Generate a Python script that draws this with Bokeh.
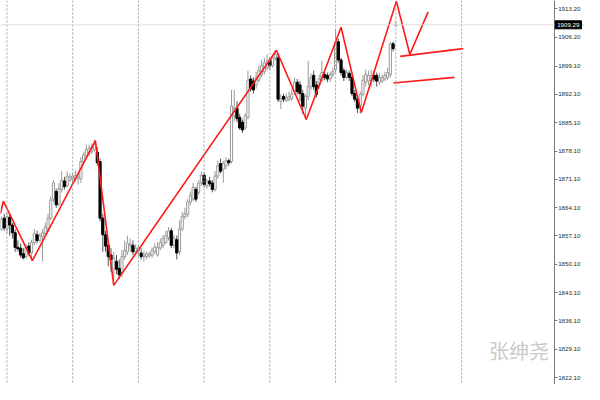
from bokeh.plotting import figure
from bokeh.models import (Span, Label, FixedTicker, ColumnDataSource, Range1d,
                          CustomJSTickFormatter, LinearAxis)
from bokeh.embed import file_html
from bokeh.resources import INLINE

# ---- candle data (price) ----
opens = [1858.8, 1861.5, 1858.8, 1861.7, 1859.8, 1857.9, 1854.3, 1854.1, 1852.7, 1852.0,
         1854.6, 1852.9, 1855.5, 1857.4, 1856.0, 1857.0, 1857.7, 1858.8, 1861.5, 1866.2,
         1868.1, 1865.0, 1868.6, 1870.7, 1869.5, 1870.9, 1871.2, 1871.2, 1871.2, 1871.2,
         1875.5, 1876.9, 1877.6, 1878.1, 1878.5, 1877.8, 1875.5, 1861.5, 1857.4, 1854.8,
         1852.4, 1848.9, 1850.8, 1849.1, 1848.1, 1852.0, 1853.2, 1854.8, 1854.8, 1853.2,
         1853.4, 1852.9, 1852.0, 1852.0, 1852.2, 1852.4, 1853.2, 1852.4, 1854.1, 1854.8,
         1855.5, 1856.7, 1858.4, 1854.8, 1856.2, 1853.2, 1858.8, 1861.9, 1862.4, 1865.5,
         1866.2, 1868.6, 1867.9, 1870.2, 1872.1, 1869.5, 1870.7, 1870.2, 1868.6, 1871.9,
         1875.0, 1873.6, 1874.5, 1875.7, 1875.5, 1886.8, 1888.7, 1886.4, 1885.2, 1883.8,
         1886.4, 1895.9, 1895.4, 1894.4, 1895.6, 1897.0, 1897.7, 1898.7, 1900.4, 1899.2,
         1901.1, 1901.1, 1890.4, 1891.6, 1890.6, 1890.9, 1891.1, 1892.8, 1895.1, 1894.4,
         1892.3, 1888.7, 1891.6, 1894.0, 1896.8, 1894.4, 1894.4, 1895.6, 1897.0, 1896.8,
         1895.9, 1897.0, 1898.2, 1905.1, 1900.6, 1898.0, 1896.3, 1897.3, 1896.3, 1892.3,
         1890.9, 1889.2, 1892.1, 1895.1, 1895.4, 1895.4, 1896.8, 1896.8, 1895.1, 1895.4,
         1895.9, 1896.3, 1897.0, 1904.6, 1909.1]
highs = [1861.9, 1862.6, 1863.1, 1862.4, 1860.3, 1858.8, 1856.0, 1855.3, 1854.1, 1855.1,
         1855.5, 1856.2, 1858.8, 1858.4, 1857.9, 1858.8, 1860.3, 1862.6, 1866.9, 1870.9,
         1868.8, 1870.2, 1873.1, 1871.7, 1873.1, 1872.6, 1872.8, 1873.3, 1872.6, 1876.6,
         1877.8, 1879.7, 1879.7, 1880.0, 1880.9, 1879.0, 1876.2, 1862.6, 1858.4, 1856.0,
         1854.1, 1853.2, 1852.4, 1851.3, 1853.6, 1856.0, 1857.2, 1856.5, 1856.0, 1855.1,
         1854.8, 1854.1, 1853.4, 1853.2, 1853.2, 1854.3, 1855.3, 1855.5, 1856.5, 1857.4,
         1858.4, 1859.3, 1859.1, 1857.4, 1857.2, 1861.0, 1863.1, 1864.1, 1866.2, 1868.1,
         1870.2, 1869.3, 1870.9, 1873.1, 1872.8, 1871.2, 1871.7, 1870.9, 1873.1, 1875.7,
         1876.2, 1875.7, 1876.6, 1876.2, 1893.2, 1893.2, 1890.4, 1887.3, 1885.9, 1887.5,
         1898.0, 1896.8, 1896.3, 1897.7, 1899.2, 1900.6, 1901.1, 1902.0, 1901.1, 1902.0,
         1903.0, 1902.3, 1892.1, 1892.3, 1892.3, 1892.8, 1893.5, 1896.3, 1895.9, 1895.4,
         1893.2, 1892.1, 1900.4, 1897.3, 1898.0, 1895.4, 1897.0, 1900.4, 1897.7, 1897.5,
         1897.7, 1898.7, 1908.2, 1905.8, 1901.1, 1898.7, 1898.2, 1898.0, 1897.0, 1893.2,
         1891.6, 1892.8, 1896.8, 1898.2, 1898.0, 1898.2, 1898.0, 1897.5, 1897.3, 1897.0,
         1897.7, 1898.7, 1905.1, 1905.1, 1910.0]
lows = [1858.4, 1858.4, 1857.7, 1857.2, 1856.5, 1853.2, 1853.2, 1851.7, 1851.3, 1851.5,
        1852.2, 1851.0, 1854.8, 1855.3, 1855.5, 1850.8, 1857.0, 1858.1, 1861.0, 1865.5,
        1864.1, 1864.5, 1867.9, 1868.6, 1869.1, 1870.5, 1870.2, 1870.5, 1869.8, 1870.2,
        1874.7, 1876.2, 1876.9, 1877.4, 1877.8, 1874.5, 1860.7, 1853.2, 1853.2, 1849.6,
        1848.2, 1844.9, 1847.7, 1846.5, 1847.0, 1851.3, 1852.4, 1853.2, 1852.4, 1852.4,
        1852.2, 1851.3, 1850.8, 1851.3, 1851.7, 1851.7, 1852.7, 1852.0, 1853.6, 1854.1,
        1855.1, 1856.0, 1854.1, 1854.1, 1851.3, 1852.4, 1858.4, 1861.2, 1861.7, 1864.8,
        1865.7, 1865.5, 1867.2, 1869.5, 1869.1, 1868.8, 1869.3, 1867.9, 1868.1, 1871.2,
        1872.6, 1870.2, 1873.6, 1874.5, 1875.0, 1885.4, 1885.2, 1883.3, 1882.6, 1883.3,
        1885.9, 1892.8, 1892.3, 1893.5, 1895.1, 1896.3, 1897.0, 1898.0, 1898.2, 1898.7,
        1900.4, 1890.2, 1888.5, 1890.2, 1890.2, 1890.4, 1890.4, 1892.1, 1892.1, 1890.4,
        1887.3, 1885.9, 1890.6, 1893.2, 1893.2, 1891.3, 1893.5, 1895.1, 1895.6, 1895.1,
        1895.1, 1896.3, 1897.5, 1899.9, 1896.8, 1895.4, 1895.9, 1895.4, 1891.6, 1890.2,
        1887.5, 1887.3, 1891.6, 1894.0, 1894.4, 1894.0, 1895.1, 1894.0, 1894.4, 1894.9,
        1895.4, 1895.6, 1896.3, 1902.7, 1908.8]
closes = [1861.2, 1859.1, 1861.9, 1859.8, 1857.9, 1854.3, 1853.9, 1852.4, 1851.7, 1854.3,
          1852.9, 1855.5, 1857.7, 1856.0, 1857.2, 1857.9, 1859.3, 1861.5, 1866.0, 1870.2,
          1864.8, 1868.8, 1870.9, 1869.3, 1871.9, 1871.7, 1871.9, 1872.1, 1871.7, 1875.5,
          1877.1, 1878.5, 1878.8, 1879.0, 1879.7, 1875.2, 1861.5, 1857.4, 1854.6, 1852.0,
          1851.3, 1851.7, 1848.9, 1847.5, 1852.0, 1853.6, 1855.3, 1855.1, 1853.2, 1854.1,
          1854.1, 1852.0, 1852.4, 1852.7, 1852.7, 1853.6, 1854.3, 1854.3, 1855.5, 1856.5,
          1857.2, 1858.4, 1854.8, 1856.5, 1852.9, 1858.8, 1861.9, 1862.6, 1865.5, 1867.2,
          1869.1, 1866.2, 1870.2, 1872.1, 1869.8, 1870.5, 1870.0, 1868.6, 1871.9, 1874.5,
          1873.1, 1875.0, 1875.7, 1875.2, 1889.2, 1888.7, 1886.1, 1883.8, 1883.3, 1886.8,
          1895.6, 1893.5, 1893.2, 1896.3, 1898.0, 1899.2, 1899.9, 1900.4, 1899.2, 1901.1,
          1902.0, 1890.9, 1891.1, 1890.9, 1891.3, 1891.6, 1892.3, 1895.1, 1892.8, 1892.3,
          1889.2, 1891.6, 1894.0, 1896.3, 1894.0, 1892.1, 1895.9, 1897.5, 1896.3, 1895.9,
          1897.0, 1897.7, 1905.1, 1900.6, 1897.5, 1896.3, 1897.5, 1896.3, 1892.3, 1890.9,
          1888.7, 1892.1, 1895.6, 1897.0, 1896.8, 1896.8, 1895.9, 1895.4, 1896.3, 1896.3,
          1896.8, 1897.5, 1904.6, 1903.4, 1909.29]

bid_price = 1909.29
price_ticks = [1913.2, 1906.2, 1899.1, 1892.1, 1885.1, 1878.1, 1871.1,
               1864.1, 1857.1, 1850.1, 1843.1, 1836.1, 1829.1, 1822.1]
day_separators = [2, 26, 50, 74, 98, 122, 144, 168]

# hand-drawn analysis lines (bar index, price)
zigzag_bar = [-0.4, 0.7, 11.3, 34.3, 41.0, 100.4, 111.3, 124.0, 131.4, 144.2, 149.1, 155.8]
zigzag_price = [1862.6, 1865.7, 1851.0, 1880.7, 1844.9, 1903.0, 1885.9, 1908.7, 1887.6, 1915.1, 1902.0, 1912.5]
upper_line_bar = [145.6, 168.6]
upper_line_price = [1901.5, 1903.4]
lower_line_bar = [143.1, 165.4]
lower_line_price = [1894.9, 1896.3]
watermark = "张绅尧"

X0 = -0.35          # left edge of the chart (bar units)
XA = 201.8          # price-scale position (bar units)
X1 = X0 + (XA - X0) / 0.948   # right edge incl. price-scale strip
Y0, Y1 = 1820.4, 1915.3

idx = list(range(len(opens)))
up = [c >= o for o, c in zip(opens, closes)]


def side(flag):
    sel = [i for i in idx if up[i] == flag]
    return ColumnDataSource(dict(
        x=sel,
        top=[max(opens[i], closes[i]) for i in sel],
        bottom=[min(opens[i], closes[i]) for i in sel],
        h=[highs[i] for i in sel],
        l=[lows[i] for i in sel],
    ))


src_up = side(True)
src_dn = side(False)

p = figure(width=584, height=384, output_backend="svg", toolbar_location=None,
           x_range=Range1d(X0, X1), y_range=Range1d(Y0, Y1),
           x_axis_location=None, y_axis_location=None)
p.min_border_left = 0
p.min_border_top = 0
p.min_border_bottom = 0
p.min_border_right = 0
p.outline_line_color = None
p.background_fill_color = "white"
p.xgrid.visible = False
p.ygrid.visible = False

for g in day_separators:
    p.add_layout(Span(location=g, dimension="height", line_color="#a0a0a0",
                      line_dash="2 2", line_width=1))

p.add_layout(Span(location=bid_price, dimension="width", line_color="#dcdcdc", line_width=1))

# wicks
p.segment(x0="x", x1="x", y0="l", y1="h", source=src_up, line_color="#9a9a9a", line_width=1)
p.segment(x0="x", x1="x", y0="l", y1="h", source=src_dn, line_color="#555555", line_width=1)
# bodies
p.vbar(x="x", width=0.8, top="top", bottom="bottom", source=src_up,
       fill_color="white", line_color="#9a9a9a", line_width=1)
p.vbar(x="x", width=0.8, top="top", bottom="bottom", source=src_dn,
       fill_color="black", line_color="black", line_width=1)

p.line(zigzag_bar, zigzag_price, line_color="#ff1a1a", line_width=1.6)
p.line(upper_line_bar, upper_line_price, line_color="#ff1a1a", line_width=1.6)
p.line(lower_line_bar, lower_line_price, line_color="#ff1a1a", line_width=1.6)

ax = LinearAxis(fixed_location=XA,
                ticker=FixedTicker(ticks=price_ticks),
                formatter=CustomJSTickFormatter(code="return tick.toFixed(2);"),
                axis_line_color="#7a7a7a",
                major_tick_line_color="#7a7a7a",
                major_tick_out=3, major_tick_in=0,
                minor_tick_out=0, minor_tick_in=0,
                major_label_standoff=1,
                major_label_text_font="Liberation Sans",
                major_label_text_font_size="6.2px",
                major_label_text_color="#2b2b2b")
p.add_layout(ax, "right")

# current price tag
p.add_layout(Label(x=XA, y=bid_price, text=f"{bid_price:.2f}", x_offset=1,
                   text_baseline="middle", text_align="left",
                   text_font="Liberation Sans", text_font_size="6.2px",
                   text_color="white", background_fill_color="black",
                   border_line_color="black", padding=2))

p.add_layout(Label(x=X0 + 0.888 * (X1 - X0), y=Y0 + 0.088 * (Y1 - Y0), text=watermark,
                   text_align="center", text_baseline="middle",
                   text_font="Noto Sans CJK SC", text_font_size="20px",
                   text_color="#cacaca"))

open("out.html", "w").write(file_html(p, INLINE))
